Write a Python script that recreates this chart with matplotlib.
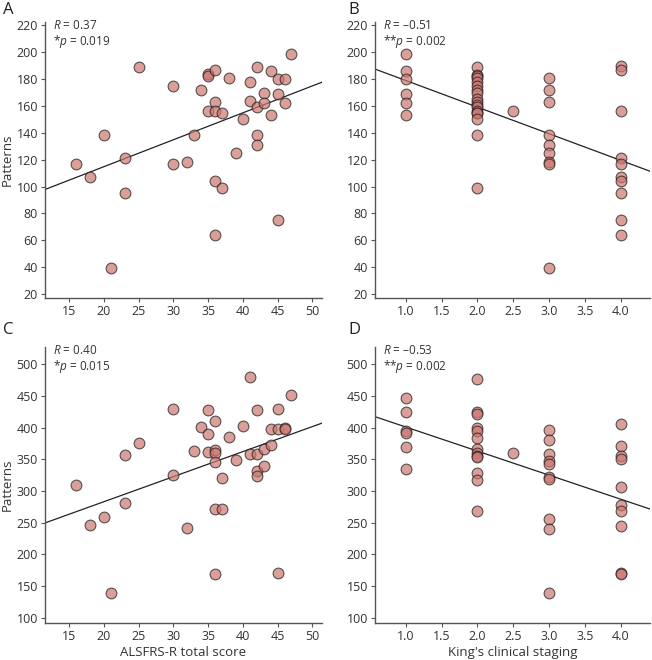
import numpy as np
import matplotlib
matplotlib.use("Agg")
import matplotlib.pyplot as plt

plt.rcParams['font.family'] = ['Open Sans', 'DejaVu Sans']
plt.rcParams['mathtext.fontset'] = 'custom'
plt.rcParams['mathtext.rm'] = 'Open Sans'
plt.rcParams['mathtext.it'] = 'Open Sans:italic'

# panel A: ALSFRS-R vs patterns
score_a = [16, 18, 20, 21, 23, 23, 25, 30, 30, 32, 33, 34, 35, 35, 35, 36, 36, 36, 37, 36,
           37, 36, 38, 39, 40, 41, 41, 42, 42, 42, 42, 43, 43, 44, 44, 45, 45, 45, 46, 46, 47]
patterns_a = [117, 107, 138, 39, 121, 95, 189, 175, 117, 118, 138, 172, 184, 182, 156, 187, 163, 156, 155, 104,
              99, 64, 181, 125, 150, 178, 164, 189, 159, 138, 131, 170, 162, 186, 153, 180, 169, 75, 180, 162, 199]

# panel B: King's staging vs patterns
stage_b = [1, 1, 1, 1, 1, 1,
           2, 2, 2, 2, 2, 2, 2, 2, 2, 2, 2, 2, 2, 2, 2, 2, 2, 2,
           2.5,
           3, 3, 3, 3, 3, 3, 3, 3, 3,
           4, 4, 4, 4, 4, 4, 4, 4, 4, 4]
patterns_b = [199, 186, 180, 169, 162, 153,
              189, 183, 182, 181, 178, 175, 172, 170, 165, 163, 161, 159, 156, 155, 155, 150, 138, 99,
              156,
              181, 172, 163, 138, 131, 125, 118, 117, 39,
              190, 187, 156, 121, 117, 107, 104, 95, 75, 64]

# panel C: ALSFRS-R vs patterns
score_c = [16, 18, 20, 21, 23, 23, 25, 30, 30, 32, 33, 34, 35, 35, 35, 36, 36, 36, 36, 36, 37,
           37, 36, 38, 39, 40, 41, 41, 42, 42, 42, 42, 43, 43, 44, 44, 45, 45, 45, 46, 46, 47]
patterns_c = [310, 246, 259, 140, 356, 281, 376, 429, 325, 242, 363, 401, 428, 390, 362, 410, 365, 360, 345, 271, 271,
              320, 170, 385, 349, 403, 479, 358, 427, 359, 332, 323, 367, 339, 398, 373, 429, 398, 171, 399, 397, 451]

# panel D: King's staging vs patterns
stage_d = [1, 1, 1, 1, 1, 1,
           2, 2, 2, 2, 2, 2, 2, 2, 2, 2, 2, 2, 2,
           2.5,
           3, 3, 3, 3, 3, 3, 3, 3, 3, 3,
           4, 4, 4, 4, 4, 4, 4, 4, 4, 4]
patterns_d = [446, 425, 394, 392, 369, 335,
              476, 424, 421, 400, 394, 384, 366, 360, 355, 353, 329, 317, 269,
              360,
              396, 380, 359, 347, 342, 322, 319, 256, 240, 140,
              405, 371, 355, 351, 307, 278, 268, 245, 171, 169]

stats = ['$\\it{R}$ = 0.37\n*$\\it{p}$ = 0.019',
         '$\\it{R}$ = \u20130.51\n**$\\it{p}$ = 0.002',
         '$\\it{R}$ = 0.40\n*$\\it{p}$ = 0.015',
         '$\\it{R}$ = \u20130.53\n**$\\it{p}$ = 0.002']
letters = ['A', 'B', 'C', 'D']

fig = plt.figure(figsize=(6.52, 6.6), dpi=100)
pos = [[45/652, 1 - 298/660, 277/652, 276/660],
       [375/652, 1 - 298/660, 275/652, 276/660],
       [45/652, 1 - 623/660, 277/652, 276/660],
       [375/652, 1 - 623/660, 275/652, 276/660]]
xs = [score_a, stage_b, score_c, stage_d]
ys = [patterns_a, patterns_b, patterns_c, patterns_d]

for i in range(4):
    ax = fig.add_axes(pos[i])
    x = np.array(xs[i], dtype=float)
    y = np.array(ys[i], dtype=float)
    ax.scatter(x, y, s=60, facecolor='#cd7770', edgecolor='#1a1a1a', linewidth=0.8, alpha=0.7, zorder=3)
    if i % 2 == 0:
        xlim = (11.5, 51.4)
        ax.set_xticks([15, 20, 25, 30, 35, 40, 45, 50])
    else:
        xlim = (0.57, 4.41)
        ax.set_xticks([1.0, 1.5, 2.0, 2.5, 3.0, 3.5, 4.0])
        ax.set_xticklabels(['1.0', '1.5', '2.0', '2.5', '3.0', '3.5', '4.0'])
    if i < 2:
        ax.set_ylim(17, 222.5)
        ax.set_yticks(range(20, 221, 20))
    else:
        ax.set_ylim(92, 527)
        ax.set_yticks(range(100, 501, 50))
    ax.set_xlim(*xlim)
    k, b = np.polyfit(x, y, 1)
    lx = np.array(xlim)
    ax.plot(lx, k * lx + b, color='#222222', linewidth=0.9, zorder=2)

    for s in ['top', 'right']:
        ax.spines[s].set_visible(False)
    for s in ['left', 'bottom']:
        ax.spines[s].set_color('#555555')
        ax.spines[s].set_linewidth(1.0)
    ax.tick_params(colors='#555555', labelcolor='#333333', labelsize=9, length=3, width=0.8, pad=2)

    ax.text(0.028, 1.01, stats[i], transform=ax.transAxes, va='top', ha='left',
            fontsize=8.5, color='#333333', linespacing=1.1)
    if i % 2 == 0:
        ax.set_ylabel('Patterns', fontsize=9.5, color='#333333')
        ax.yaxis.set_label_coords(-0.112, 0.5)
    if i == 2:
        ax.set_xlabel('ALSFRS-R total score', fontsize=9.5, color='#333333', labelpad=2)
    if i == 3:
        ax.set_xlabel("King's clinical staging", fontsize=9.5, color='#333333', labelpad=2)

    lx0 = 3 / 652 if i % 2 == 0 else 348 / 652
    ly0 = 1 - 2 / 660 if i < 2 else 1 - 322 / 660
    fig.text(lx0, ly0, letters[i], fontsize=12, color='#222222', va='top', ha='left')

fig.savefig('out.png', dpi=100)
